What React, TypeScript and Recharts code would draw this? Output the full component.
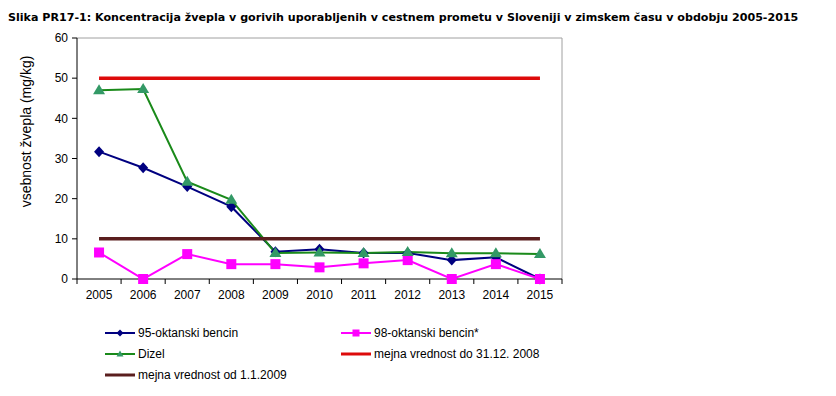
import React from "react";
import { LineChart, Line, XAxis, YAxis, CartesianGrid } from "recharts";

const years = ["2005", "2006", "2007", "2008", "2009", "2010", "2011", "2012", "2013", "2014", "2015"];
const oct95 = [31.7, 27.7, 23.0, 18.0, 6.8, 7.4, 6.5, 6.5, 4.7, 5.4, 0];
const oct98 = [6.6, 0, 6.2, 3.7, 3.7, 2.9, 3.9, 4.7, 0, 3.7, 0];
const dizel = [47.0, 47.3, 24.2, 19.7, 6.5, 6.6, 6.5, 6.7, 6.4, 6.4, 6.2];
const limitTo2008 = [50, 50, 50, 50, 50, 50, 50, 50, 50, 50, 50];
const limitFrom2009 = [10, 10, 10, 10, 10, 10, 10, 10, 10, 10, 10];
const yTicks = [0, 10, 20, 30, 40, 50, 60];

const TITLE =
  "Slika PR17-1: Koncentracija žvepla v gorivih uporabljenih v cestnem prometu v Sloveniji v zimskem času v obdobju 2005-2015";

const data = years.map((year, i) => ({
  year,
  oct95: oct95[i],
  oct98: oct98[i],
  dizel: dizel[i],
  lim08: limitTo2008[i],
  lim09: limitFrom2009[i],
}));

const FONT = "'Liberation Sans', Arial, sans-serif";

type Marker = "diamond" | "square" | "triangle" | "none";

function drawMarker(kind: Marker, cx: number, cy: number, fill: string, key?: string | number) {
  if (kind === "diamond") {
    return <polygon key={key} points={`${cx},${cy - 5.5} ${cx + 5},${cy} ${cx},${cy + 5.5} ${cx - 5},${cy}`} fill={fill} />;
  }
  if (kind === "square") {
    return <rect key={key} x={cx - 5} y={cy - 5} width={10} height={10} fill={fill} />;
  }
  if (kind === "triangle") {
    return <polygon key={key} points={`${cx},${cy - 6} ${cx + 6},${cy + 4} ${cx - 6},${cy + 4}`} fill={fill} />;
  }
  return <g key={key} />;
}

const series = [
  { key: "oct95", name: "95-oktanski bencin", color: "#000080", fill: "#000080", width: 2, marker: "diamond" as Marker },
  { key: "oct98", name: "98-oktanski bencin*", color: "#ff00ff", fill: "#ff00ff", width: 2, marker: "square" as Marker },
  { key: "dizel", name: "Dizel", color: "#1a8a1a", fill: "#339966", width: 2, marker: "triangle" as Marker },
  { key: "lim08", name: "mejna vrednost do 31.12. 2008", color: "#dd0a0a", fill: "#dd0a0a", width: 3.5, marker: "none" as Marker },
  { key: "lim09", name: "mejna vrednost od 1.1.2009", color: "#5a1e1e", fill: "#5a1e1e", width: 3.5, marker: "none" as Marker },
];

function XTick(props: any) {
  const { x, y, payload, index } = props;
  const half = payload && payload.offset ? payload.offset : 22;
  const axisY = y - 7;
  return (
    <g>
      <line x1={x - half} y1={axisY} x2={x - half} y2={axisY + 5} stroke="#000" />
      {index === years.length - 1 && (
        <line x1={x + half} y1={axisY} x2={x + half} y2={axisY + 5} stroke="#000" />
      )}
      <text x={x} y={axisY + 20} textAnchor="middle" fontSize={12} fontFamily={FONT} fill="#000">
        {payload.value}
      </text>
    </g>
  );
}

function YLabel(props: any) {
  const vb = props.viewBox || { x: 0, y: 0, height: 0 };
  const cx = vb.x + 18;
  const cy = vb.y + vb.height / 2 - 27;
  return (
    <text
      x={cx}
      y={cy}
      transform={`rotate(-90 ${cx} ${cy})`}
      textAnchor="middle"
      dominantBaseline="central"
      fontSize={14}
      fontFamily={FONT}
      fill="#000"
    >
      vsebnost žvepla (mg/kg)
    </text>
  );
}

const legendSlots = [
  { key: "oct95", left: 96, top: 318 },
  { key: "oct98", left: 332, top: 318 },
  { key: "dizel", left: 96, top: 339 },
  { key: "lim08", left: 332, top: 339 },
  { key: "lim09", left: 96, top: 360 },
];

export default function App() {
  return (
    <div style={{ position: "relative", width: 820, height: 380 }}>
      <div
        style={{
          position: "absolute",
          left: 0,
          top: 3,
          fontFamily: "'DejaVu Sans', Verdana, sans-serif",
          fontWeight: "bold",
          fontSize: 11.1,
          whiteSpace: "nowrap",
          color: "#000",
        }}
      >
        {TITLE}
      </div>
      <div style={{ position: "absolute", left: 0, top: 0 }}>
        <LineChart width={820} height={300} data={data} margin={{ top: 30, right: 266, bottom: 9, left: 0 }}>
          <CartesianGrid
            stroke="#a0a0a0"
            horizontalCoordinatesGenerator={(p: any) => [p.offset.top]}
            verticalCoordinatesGenerator={(p: any) => [p.offset.left + p.offset.width]}
          />
          <XAxis
            dataKey="year"
            scale="band"
            height={20}
            tickLine={false}
            tickSize={5}
            tickMargin={2}
            axisLine={{ stroke: "#000" }}
            tick={<XTick />}
            interval={0}
          />
          <YAxis
            width={69}
            domain={[0, 60]}
            ticks={yTicks}
            interval={0}
            tickSize={5}
            tickMargin={4}
            tickLine={{ stroke: "#000" }}
            axisLine={{ stroke: "#000" }}
            tick={{ fontSize: 12, fontFamily: FONT, fill: "#000" }}
            label={<YLabel />}
          />
          {series.map((s) => (
            <Line
              key={s.key}
              dataKey={s.key}
              name={s.name}
              type="linear"
              stroke={s.color}
              strokeWidth={s.width}
              isAnimationActive={false}
              dot={
                s.marker === "none"
                  ? false
                  : (p: any) => drawMarker(s.marker, p.cx, p.cy, s.fill, `${s.key}-${p.index}`)
              }
              activeDot={false}
            />
          ))}
        </LineChart>
      </div>
      {legendSlots.map((slot) => {
        const s = series.find((x) => x.key === slot.key)!;
        return (
          <div
            key={slot.key}
            style={{
              position: "absolute",
              left: slot.left,
              top: slot.top,
              display: "flex",
              alignItems: "center",
              fontFamily: FONT,
              fontSize: 12,
              whiteSpace: "nowrap",
            }}
          >
            <svg width={32} height={12} style={{ marginRight: 2 }}>
              <line x1={1} y1={6} x2={31} y2={6} stroke={s.color} strokeWidth={s.marker === "none" ? 3 : 2} />
              {s.marker === "diamond" && <polygon points="16,2.5 19.5,6 16,9.5 12.5,6" fill={s.fill} />}
              {s.marker === "square" && <rect x={12.5} y={2.5} width={7} height={7} fill={s.fill} />}
              {s.marker === "triangle" && <polygon points="16,2.5 19.5,8.5 12.5,8.5" fill={s.fill} />}
            </svg>
            <span>{s.name}</span>
          </div>
        );
      })}
    </div>
  );
}
